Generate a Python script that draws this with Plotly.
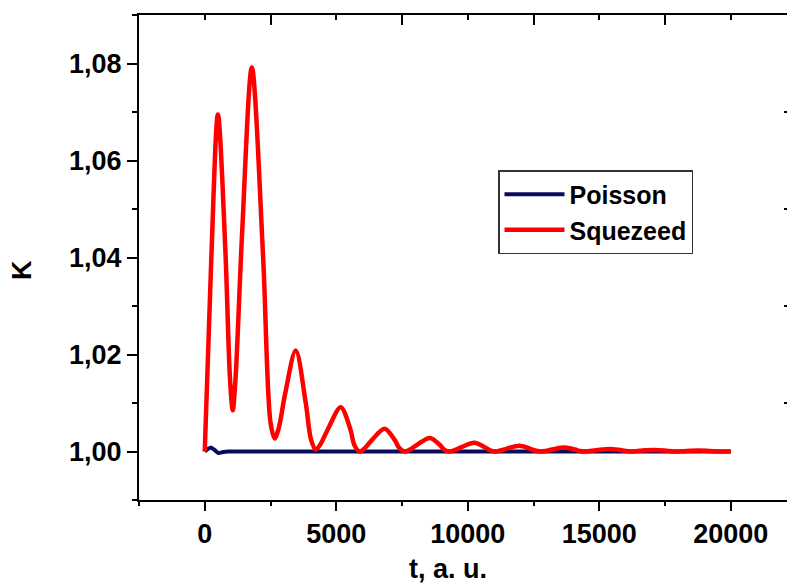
import plotly.graph_objects as go

# ---- data ----
t_poisson = [0, 120, 250, 380, 520, 700, 900, 2000, 5000, 10000, 15000, 20000]
k_poisson = [1.0000, 1.0005, 1.0008, 1.0003, 0.9997, 0.9999, 1.0000, 1.0000, 1.0000, 1.0000, 1.0000, 1.0000]

t_squeezed = [0, 250, 500, 780, 960, 1065, 1170, 1420, 1790, 2220, 2500, 2660, 2820,
              3060, 3460, 3840, 4040, 4220, 4400, 4700, 5170, 5530, 5690, 5890, 6090,
              6360, 6840, 7220, 7400, 7600, 7800, 8080, 8560, 8930, 9100, 9300, 9500,
              9770, 10250, 10640, 10830, 11030, 11230, 11490, 11960, 12360, 12550,
              12750, 12950, 13210, 13680, 14080, 14270, 14470, 14930, 15390, 15790,
              16180, 16630, 17080, 17480, 17870, 18330, 18790, 19200, 19600, 20000]
k_squeezed = [1.0000, 1.0400, 1.0695, 1.0420, 1.0150, 1.0085, 1.0150, 1.0450, 1.0792,
              1.0400, 1.0060, 1.0027, 1.0050, 1.0120, 1.0208, 1.0100, 1.0025, 1.0004,
              1.0015, 1.0048, 1.0091, 1.0047, 1.0013, 1.0000, 1.0007, 1.0024, 1.0047,
              1.0024, 1.0007, 1.0000, 1.0004, 1.0014, 1.0028, 1.0014, 1.0004, 1.0000,
              1.0003, 1.0009, 1.0018, 1.0009, 1.0003, 1.0000, 1.0002, 1.0006, 1.0012,
              1.0006, 1.0002, 1.0000, 1.0001, 1.0004, 1.0008, 1.0004, 1.0001, 1.0000,
              1.0003, 1.0005, 1.0003, 1.0000, 1.0002, 1.0003, 1.0002, 1.0000, 1.0001,
              1.0002, 1.0001, 1.0000, 1.0000]

x_tick_vals = [0, 5000, 10000, 15000, 20000]
x_tick_text = ["0", "5000", "10000", "15000", "20000"]
x_minor_vals = [-2500, 2500, 7500, 12500, 17500]
y_tick_vals = [1.00, 1.02, 1.04, 1.06, 1.08]
y_tick_text = ["1,00", "1,02", "1,04", "1,06", "1,08"]
y_minor_vals = [0.99, 1.01, 1.03, 1.05, 1.07, 1.09]
y_right_vals = [1.01, 1.03, 1.05, 1.07]

series_names = ["Poisson", "Squezeed"]

FONT = "Liberation Sans, Arial, sans-serif"

fig = go.Figure()
fig.add_trace(go.Scatter(x=t_poisson, y=k_poisson, mode="lines", name=series_names[0],
                         line=dict(color="#0b0b5e", width=4, shape="spline", smoothing=0.6)))
fig.add_trace(go.Scatter(x=t_squeezed, y=k_squeezed, mode="lines", name=series_names[1],
                         line=dict(color="#ff0000", width=4.5, shape="spline", smoothing=0.9)))
# helper trace so the top/right mirror axes exist (draws nothing visible)
fig.add_trace(go.Scatter(x=t_poisson[:1], y=k_poisson[:1], mode="lines", xaxis="x2", yaxis="y2",
                         showlegend=False, hoverinfo="skip", line=dict(width=0)))

xr = [-2500, 22138]
yr = [0.99, 1.09]

fig.update_layout(
    width=787, height=588,
    margin=dict(l=139, r=0, t=15, b=88),
    paper_bgcolor="white", plot_bgcolor="white",
    font=dict(family=FONT, color="black", size=26, weight="bold"),
    xaxis=dict(range=xr, showline=True, linecolor="black", linewidth=2,
               ticks="outside", ticklen=9, tickwidth=2, tickcolor="black",
               tickmode="array", tickvals=x_tick_vals, ticktext=x_tick_text,
               tickfont=dict(size=27, family=FONT, weight="bold"),
               minor=dict(tickmode="array", tickvals=x_minor_vals, ticks="outside",
                          ticklen=4, tickwidth=2, tickcolor="black"),
               showgrid=False, zeroline=False),
    xaxis2=dict(range=xr, overlaying="x", side="top", anchor="y", showline=True,
                linecolor="black", linewidth=2, ticks="inside", ticklen=10, tickwidth=2,
                tickcolor="black", tickmode="array", tickvals=x_minor_vals[1:],
                showticklabels=False,
                minor=dict(tickmode="array", tickvals=x_tick_vals, ticks="inside",
                           ticklen=5, tickwidth=2, tickcolor="black"),
                showgrid=False, zeroline=False),
    yaxis=dict(range=yr, showline=True, linecolor="black", linewidth=2,
               ticks="outside", ticklen=10, tickwidth=2, tickcolor="black",
               tickmode="array", tickvals=y_tick_vals, ticktext=y_tick_text,
               tickfont=dict(size=27, family=FONT, weight="bold"),
               minor=dict(tickmode="array", tickvals=y_minor_vals, ticks="outside",
                          ticklen=5, tickwidth=2, tickcolor="black"),
               showgrid=False, zeroline=False),
    yaxis2=dict(range=yr, overlaying="y", side="right", anchor="x", showline=False,
                ticks="inside", ticklen=3, tickwidth=2, tickcolor="black",
                tickmode="array", tickvals=y_right_vals, showticklabels=False,
                showgrid=False, zeroline=False),
    legend=dict(x=(498 - 139) / 648, y=(500 - 212) / 485, xanchor="left", yanchor="middle",
                bordercolor="#333333", borderwidth=1.5, bgcolor="white",
                font=dict(size=25, family=FONT, weight="bold"),
                tracegroupgap=0, itemwidth=60),
    showlegend=True,
    annotations=[
        dict(text="t, a. u.", xref="paper", yref="paper", x=(448 - 139) / 648,
             y=(500 - 569) / 485, xanchor="center", yanchor="middle", showarrow=False,
             font=dict(size=27, family=FONT, weight="bold")),
        dict(text="K", xref="paper", yref="paper", x=(22 - 139) / 648,
             y=(500 - 270) / 485, xanchor="center", yanchor="middle", showarrow=False,
             textangle=-90, font=dict(size=27, family=FONT, weight="bold")),
    ],
)

fig.write_html("out.html")
